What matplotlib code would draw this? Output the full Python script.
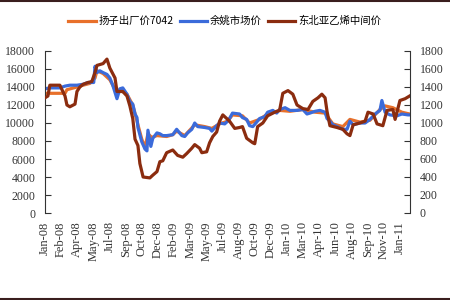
import pandas as pd
import matplotlib.pyplot as plt
import matplotlib.dates as mdates
from matplotlib.lines import Line2D

plt.rcParams['font.family'] = ['Liberation Serif', 'Noto Sans CJK SC']

# 余姚市场价 (left axis)
yy_dates = ["2008-01-01", "2008-01-16", "2008-02-16", "2008-03-03", "2008-03-18", "2008-04-09",
            "2008-04-28", "2008-05-13", "2008-05-31", "2008-06-04", "2008-06-10", "2008-06-19",
            "2008-06-29", "2008-07-11", "2008-07-20", "2008-07-29", "2008-08-11", "2008-08-20",
            "2008-08-29", "2008-09-11", "2008-09-20", "2008-09-29", "2008-10-06", "2008-10-12",
            "2008-10-15", "2008-10-27", "2008-11-06", "2008-11-12", "2008-11-15", "2008-11-24",
            "2008-11-30", "2008-12-13", "2008-12-22", "2008-12-31", "2009-01-12", "2009-01-31",
            "2009-02-12", "2009-02-28", "2009-03-09", "2009-03-18", "2009-03-31", "2009-04-09",
            "2009-04-18", "2009-05-10", "2009-05-25", "2009-06-01", "2009-06-16", "2009-06-25",
            "2009-07-11", "2009-07-20", "2009-07-26", "2009-08-04", "2009-08-26", "2009-09-04",
            "2009-09-17", "2009-09-26", "2009-10-06", "2009-10-18", "2009-10-27", "2009-11-12",
            "2009-11-21", "2009-12-07", "2009-12-19", "2009-12-28", "2010-01-14", "2010-01-29",
            "2010-02-20", "2010-03-10", "2010-03-23", "2010-04-01", "2010-04-17", "2010-05-02",
            "2010-05-18", "2010-05-24", "2010-06-02", "2010-06-11", "2010-06-24", "2010-07-12",
            "2010-07-25", "2010-08-03", "2010-08-13", "2010-09-03", "2010-09-19", "2010-10-04",
            "2010-10-20", "2010-11-04", "2010-11-10", "2010-11-20", "2010-12-05", "2010-12-27",
            "2011-01-11", "2011-01-30", "2011-02-04"]
yy_vals = [13800, 13900, 13900, 14100, 14200, 14200,
           14300, 14500, 14500, 16300, 15600, 15800,
           15600, 15400, 15000, 14200, 12700, 13800,
           13900, 13200, 12400, 12100, 11000, 10600,
           9500, 7900, 7100, 6900, 9200, 7400,
           8300, 8900, 8800, 8600, 8600, 8700,
           9300, 8600, 8500, 8900, 9300, 10000,
           9600, 9500, 9400, 9100, 9700, 10000,
           9900, 10200, 10500, 11100, 11000, 10600,
           10400, 9700, 9600, 10100, 10500, 10700,
           11200, 11400, 11100, 11500, 11700, 11400,
           11400, 11500, 11000, 11100, 11300, 11400,
           11200, 10500, 10200, 9800, 9600, 9300,
           9300, 10200, 9800, 10000, 10000, 10400,
           11000, 11400, 12500, 11200, 10900, 10800,
           11000, 10900, 10900]

# 扬子出厂价7042 (left axis)
yz_dates = ["2008-01-01", "2008-03-03", "2008-03-09", "2008-04-09", "2008-04-28", "2008-05-19",
            "2008-06-04", "2008-06-10", "2008-06-29", "2008-07-20", "2008-07-29", "2008-08-11",
            "2008-08-20", "2008-09-11", "2008-09-29", "2008-10-15", "2008-10-27", "2008-11-06",
            "2008-11-15", "2008-11-27", "2008-12-13", "2009-01-12", "2009-01-31", "2009-02-12",
            "2009-03-09", "2009-04-09", "2009-05-10", "2009-06-01", "2009-06-25", "2009-07-20",
            "2009-08-04", "2009-09-04", "2009-09-26", "2009-10-27", "2009-11-21", "2009-12-28",
            "2010-01-29", "2010-03-10", "2010-04-17", "2010-05-18", "2010-06-11", "2010-07-12",
            "2010-08-03", "2010-09-03", "2010-10-04", "2010-11-04", "2010-11-20", "2010-12-14",
            "2011-01-11", "2011-02-04"]
yz_vals = [13300, 13300, 13700, 14000, 14200, 14400,
           15000, 15800, 15500, 14800, 14200, 13300,
           13700, 13200, 12000, 9800, 8200, 7300,
           8800, 8400, 8600, 8500, 8700, 9100,
           8600, 9800, 9600, 9400, 9900, 10200,
           10900, 10800, 10000, 10400, 11000, 11400,
           11300, 11500, 11200, 11100, 9900, 9600,
           10400, 10100, 10300, 11500, 11900, 11700,
           11200, 11000]

# 东北亚乙烯中间价 (right axis)
db_dates = ["2008-01-01", "2008-01-10", "2008-01-16", "2008-02-16", "2008-03-03", "2008-03-09",
            "2008-03-18", "2008-04-03", "2008-04-09", "2008-04-18", "2008-04-28", "2008-05-13",
            "2008-05-25", "2008-06-04", "2008-06-10", "2008-06-29", "2008-07-11", "2008-07-20",
            "2008-08-05", "2008-08-11", "2008-08-29", "2008-09-11", "2008-09-20", "2008-09-29",
            "2008-10-06", "2008-10-15", "2008-10-21", "2008-10-31", "2008-11-21", "2008-11-30",
            "2008-12-13", "2008-12-22", "2008-12-31", "2009-01-12", "2009-01-31", "2009-02-15",
            "2009-03-03", "2009-03-15", "2009-03-31", "2009-04-09", "2009-04-24", "2009-05-01",
            "2009-05-16", "2009-05-25", "2009-06-04", "2009-06-16", "2009-06-25", "2009-07-05",
            "2009-07-17", "2009-07-26", "2009-08-11", "2009-08-26", "2009-09-04", "2009-09-17",
            "2009-10-06", "2009-10-12", "2009-10-21", "2009-11-06", "2009-11-21", "2009-12-13",
            "2009-12-28", "2010-01-07", "2010-01-23", "2010-02-07", "2010-02-20", "2010-03-10",
            "2010-03-26", "2010-04-10", "2010-04-26", "2010-05-08", "2010-05-18", "2010-05-24",
            "2010-06-02", "2010-06-24", "2010-07-12", "2010-07-25", "2010-08-03", "2010-08-13",
            "2010-09-03", "2010-09-19", "2010-09-28", "2010-10-14", "2010-10-26", "2010-11-13",
            "2010-11-26", "2010-12-14", "2010-12-21", "2011-01-05", "2011-01-21", "2011-02-04"]
db_vals = [1280, 1300, 1420, 1420, 1300, 1200,
           1180, 1210, 1350, 1400, 1430, 1450,
           1460, 1560, 1640, 1660, 1710, 1610,
           1500, 1350, 1350, 1300, 1190, 1050,
           820, 750, 550, 400, 390, 420,
           460, 570, 580, 670, 700, 640,
           620, 660, 720, 760, 720, 670,
           680, 780, 850, 900, 1020, 1090,
           1050, 1020, 940, 950, 960, 830,
           780, 770, 960, 1000, 1080, 1120,
           1140, 1330, 1360, 1320, 1200, 1160,
           1150, 1240, 1280, 1320, 1280, 1130,
           970, 950, 930, 880, 860, 980,
           1000, 1020, 1120, 1100, 990, 970,
           1140, 1150, 1040, 1250, 1270, 1300]

left_ticks = [0, 2000, 4000, 6000, 8000, 10000, 12000, 14000, 16000, 18000]
right_ticks = [0, 200, 400, 600, 800, 1000, 1200, 1400, 1600, 1800]

fig = plt.figure(figsize=(4.5, 3), dpi=100)
ax = fig.add_axes([0.1, 0.29, 0.811, 0.54])
ax2 = ax.twinx()

l1, = ax.plot(pd.to_datetime(yz_dates), yz_vals, color='#E8702A', lw=2.3, label='扬子出厂价7042')
l2, = ax.plot(pd.to_datetime(yy_dates), yy_vals, color='#3B6BDA', lw=2.3, label='余姚市场价')
l3, = ax2.plot(pd.to_datetime(db_dates), db_vals, color='#8B2C0F', lw=2.3, label='东北亚乙烯中间价')

ax.set_ylim(0, 18000)
ax2.set_ylim(0, 1800)
ax.set_yticks(left_ticks)
ax2.set_yticks(right_ticks)
ax.set_xlim(pd.Timestamp("2008-01-01"), pd.Timestamp("2011-02-05"))

xt = pd.date_range("2008-01-01", periods=23, freq="50D")
ax.set_xticks(xt)
ax.xaxis.set_major_formatter(mdates.DateFormatter('%b-%y'))
for lab in ax.get_xticklabels():
    lab.set_rotation(90)

for a in (ax, ax2):
    a.spines['top'].set_visible(False)
    a.spines['bottom'].set_visible(False)
    a.spines['left'].set_color('#333333')
    a.spines['right'].set_color('#333333')
ax.spines['right'].set_visible(False)
ax2.spines['left'].set_visible(False)

ax.tick_params(axis='y', direction='in', length=4, labelsize=8.5, colors='#333333', pad=7)
ax2.tick_params(axis='y', direction='in', length=4, labelsize=8.5, colors='#333333', pad=7)
ax.tick_params(axis='x', length=0, labelsize=9, colors='#333333', pad=6)

fig.legend(handles=[l1, l2, l3], loc='center', bbox_to_anchor=(0.5, 0.93), ncol=3,
           frameon=False, prop={'family': ['Noto Sans CJK SC'], 'size': 7.5},
           handlelength=2.6, handletextpad=0.3, columnspacing=0.6)

# dark rules at top and bottom of the picture
fig.add_artist(Line2D([0, 1], [0.997, 0.997], transform=fig.transFigure, color='#3A1E1E', lw=1.5))
fig.add_artist(Line2D([0, 1], [0.003, 0.003], transform=fig.transFigure, color='#3A1E1E', lw=1.5))

fig.savefig('out.png', dpi=100, facecolor='white')
